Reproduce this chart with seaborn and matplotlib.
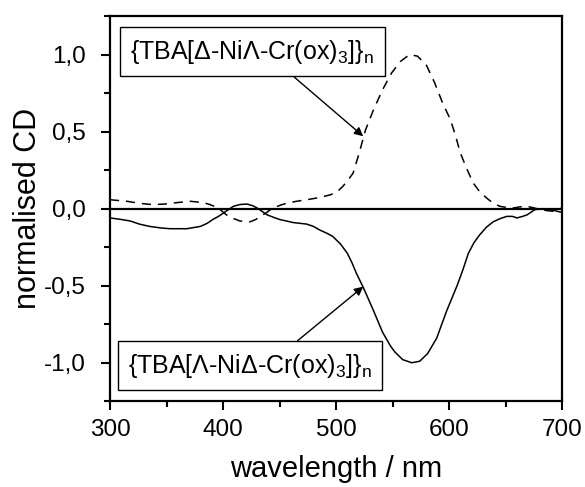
import numpy as np
import pandas as pd
import matplotlib
matplotlib.use("Agg")
import matplotlib.pyplot as plt
import seaborn as sns
from matplotlib.ticker import MultipleLocator, FuncFormatter

# Solid curve: {TBA[Λ-NiΔ-Cr(ox)3]}n
wl_solid = [300, 310, 318, 326, 335, 345, 353, 368, 380, 386, 391, 396, 400, 405, 409, 415, 421,
            426, 430, 435, 439, 445, 450, 456, 462, 474, 480, 486, 492, 497, 504, 510, 514, 518,
            524, 533, 541, 548, 552, 559, 567, 574, 581, 589, 598, 607, 612, 617, 622, 627, 633,
            639, 645, 651, 656, 660, 665, 669, 673, 676, 683, 688, 692, 700]
cd_solid = [-0.06, -0.07, -0.08, -0.10, -0.115, -0.125, -0.13, -0.13, -0.115, -0.095, -0.07,
            -0.05, -0.03, -0.005, 0.015, 0.027, 0.03, 0.02, 0.005, -0.02, -0.04, -0.057, -0.07,
            -0.08, -0.09, -0.10, -0.115, -0.14, -0.16, -0.18, -0.23, -0.29, -0.35, -0.42, -0.51,
            -0.66, -0.80, -0.89, -0.93, -0.98, -1.0, -0.99, -0.94, -0.84, -0.66, -0.50, -0.40,
            -0.29, -0.22, -0.17, -0.12, -0.085, -0.065, -0.05, -0.05, -0.06, -0.05, -0.04, -0.02,
            -0.006, 0.0, -0.005, -0.01, -0.025]

# Dashed curve: {TBA[Δ-NiΛ-Cr(ox)3]}n
wl_dash = [300, 315, 326, 338, 348, 356, 371, 382, 388, 393, 398, 403, 409, 415, 424, 429, 433,
           438, 442, 447, 452, 458, 465, 474, 485, 495, 501, 506, 511, 515, 520, 526, 533, 541,
           549, 557, 565, 572, 580, 587, 594, 601, 605, 610, 615, 621, 627, 633, 639, 645, 651,
           657, 663, 669, 675, 681, 686, 692, 696, 700]
cd_dash = [0.058, 0.048, 0.035, 0.026, 0.03, 0.037, 0.048, 0.04, 0.028, 0.013, -0.01, -0.04,
           -0.063, -0.08, -0.085, -0.07, -0.05, -0.028, -0.006, 0.012, 0.026, 0.038, 0.048, 0.058,
           0.072, 0.09, 0.11, 0.145, 0.19, 0.23, 0.35, 0.51, 0.64, 0.77, 0.88, 0.956, 1.0, 0.99,
           0.93, 0.82, 0.69, 0.58, 0.49, 0.36, 0.27, 0.17, 0.11, 0.07, 0.035, 0.015, 0.008, 0.005,
           0.012, 0.015, 0.005, -0.006, -0.012, -0.017, -0.005, 0.005]

label_dash = r"{TBA[Δ-NiΛ-Cr(ox)$_3$]}$_{\rm n}$"
label_solid = r"{TBA[Λ-NiΔ-Cr(ox)$_3$]}$_{\rm n}$"

sns.set_theme(style="ticks")
plt.rcParams['font.family'] = ['Liberation Sans', 'DejaVu Sans']
plt.rcParams['mathtext.fontset'] = 'custom'
plt.rcParams['mathtext.rm'] = 'Liberation Sans'
plt.rcParams['mathtext.it'] = 'Liberation Sans'
for k in ['text.color', 'axes.labelcolor', 'xtick.color', 'ytick.color', 'axes.edgecolor']:
    plt.rcParams[k] = 'black'

fig = plt.figure(figsize=(5.85, 4.87), dpi=100)
ax = fig.add_axes([0.188, 0.176, 0.773, 0.791])

df_s = pd.DataFrame({"wl": wl_solid, "cd": cd_solid})
df_d = pd.DataFrame({"wl": wl_dash, "cd": cd_dash})
sns.lineplot(data=df_s, x="wl", y="cd", ax=ax, color="black", lw=1.1)
sns.lineplot(data=df_d, x="wl", y="cd", ax=ax, color="black", lw=1.1, linestyle=(0, (6, 4.5)))
ax.axhline(0, color="black", lw=1.6, zorder=1)

ax.set_xlim(300, 700)
ax.set_ylim(-1.25, 1.25)
ax.xaxis.set_major_locator(MultipleLocator(100))
ax.xaxis.set_minor_locator(MultipleLocator(50))
ax.yaxis.set_major_locator(MultipleLocator(0.5))
ax.yaxis.set_minor_locator(MultipleLocator(0.25))
ax.yaxis.set_major_formatter(FuncFormatter(lambda v, p: f"{v:.1f}".replace(".", ",")))
ax.tick_params(which="major", direction="out", length=6.5, width=1.5, labelsize=17.5,
               color="black", labelcolor="black", top=False, right=False)
ax.tick_params(axis="x", which="major", pad=6)
ax.tick_params(axis="y", which="major", pad=11)
ax.tick_params(which="minor", direction="out", length=4, width=1.5, top=False, right=False)
for s in ax.spines.values():
    s.set_linewidth(1.6)
    s.set_color("black")

ax.set_xlabel("wavelength / nm", fontsize=21, color="black")
ax.set_ylabel("normalised CD", fontsize=22, color="black")
ax.xaxis.set_label_coords(0.5, -0.14)
ax.yaxis.set_label_coords(-0.148, 0.5)

bbox = dict(boxstyle="square,pad=0.42", fc="white", ec="black", lw=1.0)
ax.annotate(label_dash, xy=(524, 0.47), xytext=(318, 1.02), fontsize=18, color="black",
            ha="left", va="center", bbox=bbox,
            arrowprops=dict(arrowstyle="-|>", color="black", lw=1.0, shrinkA=0, shrinkB=0,
                            mutation_scale=13, relpos=(0.55, 0.5)))
ax.annotate(label_solid, xy=(524, -0.506), xytext=(316, -1.02), fontsize=18, color="black",
            ha="left", va="center", bbox=bbox,
            arrowprops=dict(arrowstyle="-|>", color="black", lw=1.0, shrinkA=0, shrinkB=0,
                            mutation_scale=13, relpos=(0.57, 0.5)))

fig.savefig("out.png", dpi=100)
